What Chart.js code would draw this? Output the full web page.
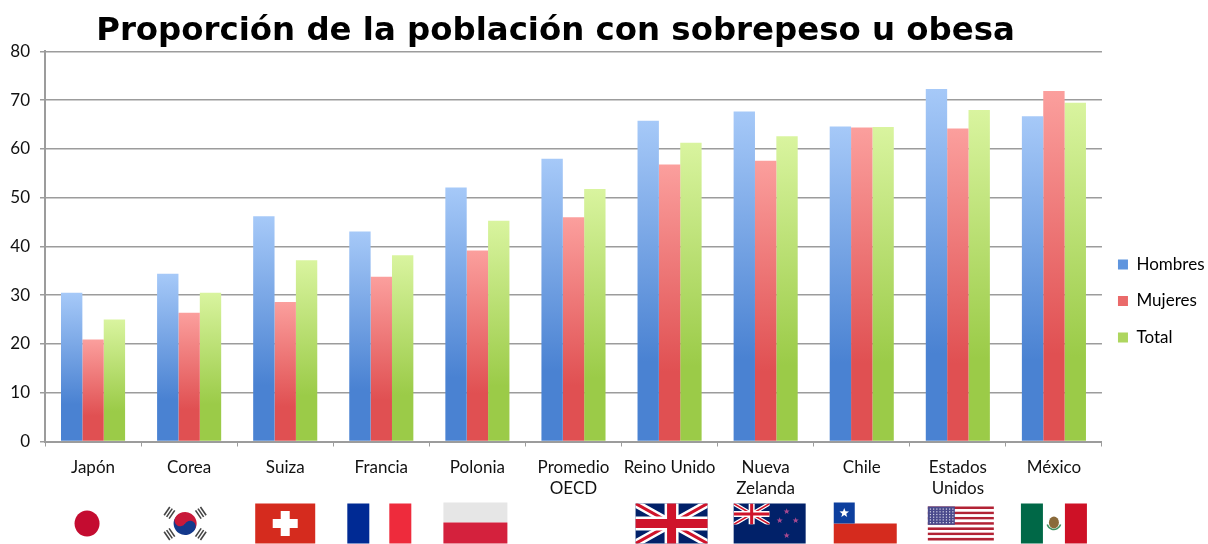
<!DOCTYPE html>
<html lang="es">
<head>
<meta charset="utf-8">
<title>Sobrepeso y obesidad</title>
<script src="https://cdn.jsdelivr.net/npm/chart.js@4"></script>
<style>
  html, body { margin: 0; padding: 0; background: #fff; }
  #wrap { width: 1208px; height: 544px; }
</style>
</head>
<body>
<div id="wrap"><canvas id="chart" width="1208" height="544"></canvas></div>
<script>
const categories = [
  "Japón", "Corea", "Suiza", "Francia", "Polonia", ["Promedio", "OECD"],
  "Reino Unido", ["Nueva", "Zelanda"], "Chile", ["Estados", "Unidos"], "México"
];
const hombres = [30.5, 34.4, 46.2, 43.1, 52.1, 58.0, 65.8, 67.7, 64.6, 72.3, 66.7];
const mujeres = [20.9, 26.4, 28.6, 33.8, 39.2, 46.0, 56.8, 57.6, 64.4, 64.2, 71.9];
const total = [25.0, 30.5, 37.2, 38.2, 45.3, 51.8, 61.3, 62.6, 64.5, 68.0, 69.5];

const TEXT = "#111";
const GRID = "#9c9c9c";
const LABEL_FONT = "Lato";

// Vertical shading of a bar, from its base up to its own top
function barGradient(bottom, top) {
  return (ctx) => {
    const chart = ctx.chart;
    if (!chart.chartArea || ctx.raw === undefined) return bottom;
    const y = chart.scales.y;
    const g = chart.ctx.createLinearGradient(0, y.getPixelForValue(0), 0, y.getPixelForValue(ctx.raw));
    g.addColorStop(0, bottom);
    g.addColorStop(0.25, bottom);
    g.addColorStop(1, top);
    return g;
  };
}

function rect(c, color, x, y, w, h) {
  c.fillStyle = color;
  c.fillRect(x, y, w, h);
}

// Each flag is painted around (0, 0), the middle of its own slot
const flags = {
  "Japón": { shift: -6, paint(c) {
    c.fillStyle = "#c40c30";
    c.beginPath(); c.ellipse(0, 0, 12.5, 13, 0, 0, Math.PI * 2); c.fill();
  }},
  "Corea": { shift: -4, paint(c) {
    c.save();
    c.rotate(0.55);
    c.fillStyle = "#c8193a";
    c.beginPath(); c.arc(0, 0, 11.5, Math.PI, 0); c.fill();
    c.fillStyle = "#14398c";
    c.beginPath(); c.arc(0, 0, 11.5, 0, Math.PI); c.fill();
    c.fillStyle = "#c8193a";
    c.beginPath(); c.arc(-5.75, 0, 5.75, 0, Math.PI * 2); c.fill();
    c.fillStyle = "#14398c";
    c.beginPath(); c.arc(5.75, 0, 5.75, 0, Math.PI * 2); c.fill();
    c.restore();
    c.strokeStyle = "#444";
    c.lineWidth = 1.6;
    for (const a of [-0.6, 0.6, Math.PI - 0.6, Math.PI + 0.6]) {
      c.save();
      c.rotate(a);
      for (const d of [16, 19, 22]) {
        c.beginPath(); c.moveTo(d, -5); c.lineTo(d, 5); c.stroke();
      }
      c.restore();
    }
  }},
  "Suiza": { shift: 0, paint(c) {
    rect(c, "#d52b1e", -30, -20, 60, 40);
    rect(c, "#fff", -12.5, -4.5, 25, 9);
    rect(c, "#fff", -4.5, -12.5, 9, 25);
  }},
  "Francia": { shift: -1, paint(c) {
    rect(c, "#002a94", -33, -20, 22, 40);
    rect(c, "#ee2b3c", 9, -20, 22, 40);
  }},
  "Polonia": { shift: -2, paint(c) {
    rect(c, "#e6e6e6", -32, -21, 64, 20);
    rect(c, "#d4213d", -32, -1, 64, 21);
  }},
  "Reino Unido": { shift: 2, paint(c) {
    const w = 36, h = 20;
    rect(c, "#012169", -w, -h, w * 2, h * 2);
    c.save();
    c.beginPath(); c.rect(-w, -h, w * 2, h * 2); c.clip();
    c.strokeStyle = "#fff"; c.lineWidth = 8;
    c.beginPath(); c.moveTo(-w, -h); c.lineTo(w, h); c.moveTo(w, -h); c.lineTo(-w, h); c.stroke();
    c.strokeStyle = "#cf142b"; c.lineWidth = 3;
    c.beginPath(); c.moveTo(-w, -h); c.lineTo(w, h); c.moveTo(w, -h); c.lineTo(-w, h); c.stroke();
    c.restore();
    rect(c, "#fff", -w, -7, w * 2, 14);
    rect(c, "#fff", -7, -h, 14, h * 2);
    rect(c, "#cf142b", -w, -4.5, w * 2, 9);
    rect(c, "#cf142b", -4.5, -h, 9, h * 2);
  }},
  "Nueva Zelanda": { shift: 4, paint(c) {
    const w = 36, h = 20;
    rect(c, "#012169", -w, -h, w * 2, h * 2);
    c.save();
    c.beginPath(); c.rect(-w, -h, 36, 21); c.clip();
    c.strokeStyle = "#fff"; c.lineWidth = 4;
    c.beginPath(); c.moveTo(-w, -h); c.lineTo(0, 1); c.moveTo(0, -h); c.lineTo(-w, 1); c.stroke();
    c.strokeStyle = "#cf142b"; c.lineWidth = 1.5;
    c.beginPath(); c.moveTo(-w, -h); c.lineTo(0, 1); c.moveTo(0, -h); c.lineTo(-w, 1); c.stroke();
    rect(c, "#fff", -w, -12.5, 36, 6);
    rect(c, "#fff", -21, -h, 6, 21);
    rect(c, "#cf142b", -w, -11, 36, 3);
    rect(c, "#cf142b", -19.5, -h, 3, 21);
    c.restore();
    c.fillStyle = "#a8498f";
    for (const [sx, sy] of [[17, -12], [10, -3], [26, -3], [17, 12]]) {
      star(c, sx, sy, 3.2);
    }
  }},
  "Chile": { shift: 3, paint(c) {
    rect(c, "#d52b1e", -31, 0, 63, 20);
    rect(c, "#0d3f9e", -31, -21, 21, 21);
    c.fillStyle = "#fff";
    star(c, -20.5, -10.5, 5);
  }},
  "Estados Unidos": { shift: 3, paint(c) {
    const w = 33, top = -17, rows = 13, rowH = 34 / rows;
    for (let i = 0; i < rows; i++) {
      rect(c, i % 2 ? "#fff" : "#b22234", -w, top + i * rowH, w * 2, rowH);
    }
    rect(c, "#4a4a8c", -w, top, 27, rowH * 7);
    c.fillStyle = "#d8d8ea";
    for (let r = 0; r < 6; r++) {
      for (let k = 0; k < 8; k++) {
        c.fillRect(-w + 2 + k * 3.2, top + 2 + r * 2.7, 1.2, 1.2);
      }
    }
  }},
  "México": { shift: 0, paint(c) {
    rect(c, "#006847", -33, -20, 22, 40);
    rect(c, "#ce1126", 11, -20, 22, 40);
    c.fillStyle = "#8a6a3a";
    c.beginPath(); c.ellipse(0, -1, 5, 6, 0, 0, Math.PI * 2); c.fill();
    c.strokeStyle = "#3f8f5f"; c.lineWidth = 1.5;
    c.beginPath(); c.arc(0, -1, 7, 0.3, Math.PI - 0.3); c.stroke();
  }}
};

function star(c, x, y, r) {
  c.beginPath();
  for (let i = 0; i < 10; i++) {
    const rad = i % 2 ? r * 0.42 : r;
    const a = -Math.PI / 2 + i * Math.PI / 5;
    c.lineTo(x + rad * Math.cos(a), y + rad * Math.sin(a));
  }
  c.closePath();
  c.fill();
}

const flagRow = {
  id: "flagRow",
  afterDraw(chart) {
    const c = chart.ctx, x = chart.scales.x;
    categories.forEach((label, i) => {
      const flag = flags[[].concat(label).join(" ")];
      if (!flag) return;
      c.save();
      c.translate(x.getPixelForValue(i) + flag.shift, 523.5);
      flag.paint(c);
      c.restore();
    });
  }
};

// Moves the title left over the bars and places the legend beside the lower bars
const placeBlocks = {
  id: "placeBlocks",
  afterLayout(chart) {
    chart.titleBlock.left -= 53.5;
    chart.titleBlock.right -= 53.5;
    chart.legend.top += 23;
    chart.legend.bottom += 23;
    chart.legend.left = chart.chartArea.right + 16 - 19.5;
  }
};

new Chart(document.getElementById("chart"), {
  type: "bar",
  data: {
    labels: categories,
    datasets: [
      { label: "Hombres", data: hombres, backgroundColor: barGradient("#4a82d2", "#a6c9f8") },
      { label: "Mujeres", data: mujeres, backgroundColor: barGradient("#e05052", "#fb9f9d") },
      { label: "Total", data: total, backgroundColor: barGradient("#9bcb48", "#d9f49f") }
    ]
  },
  plugins: [flagRow, placeBlocks],
  options: {
    responsive: false,
    animation: false,
    devicePixelRatio: 1,
    layout: { padding: { left: 0, right: -10, top: 12, bottom: 0 } },
    datasets: { bar: { categoryPercentage: 0.667, barPercentage: 1, borderWidth: 0 } },
    scales: {
      x: {
        afterFit(s) { s.height = 102.5; },
        grid: { drawOnChartArea: false, drawTicks: true, tickLength: 5, color: GRID, offset: true },
        border: { color: GRID, width: 2 },
        ticks: { color: TEXT, font: { family: LABEL_FONT, size: 17, lineHeight: 1.25 }, padding: 10, maxRotation: 0, autoSkip: false }
      },
      y: {
        min: 0, max: 80,
        afterFit(s) { s.width = 45; },
        grid: { color: GRID, lineWidth: 1.5, tickLength: 5 },
        border: { color: GRID, width: 2 },
        ticks: { color: TEXT, stepSize: 10, font: { family: LABEL_FONT, size: 17 }, padding: 10 }
      }
    },
    plugins: {
      title: {
        display: true,
        text: "Proporción de la población con sobrepeso u obesa",
        color: "#000",
        font: { family: "DejaVu Sans", weight: "bold", size: 32.4 },
        padding: { top: 0, bottom: 0.6 }
      },
      legend: {
        position: "right",
        labels: {
          color: TEXT,
          font: { family: LABEL_FONT, size: 17 },
          boxWidth: 10,
          boxHeight: 10,
          padding: 19.5,
          generateLabels: () => [
            { text: "Hombres", fillStyle: "#5f95de", strokeStyle: "transparent", lineWidth: 0 },
            { text: "Mujeres", fillStyle: "#ea6a6a", strokeStyle: "transparent", lineWidth: 0 },
            { text: "Total", fillStyle: "#aed65f", strokeStyle: "transparent", lineWidth: 0 }
          ]
        }
      },
      tooltip: { enabled: false }
    }
  }
});
</script>
</body>
</html>
